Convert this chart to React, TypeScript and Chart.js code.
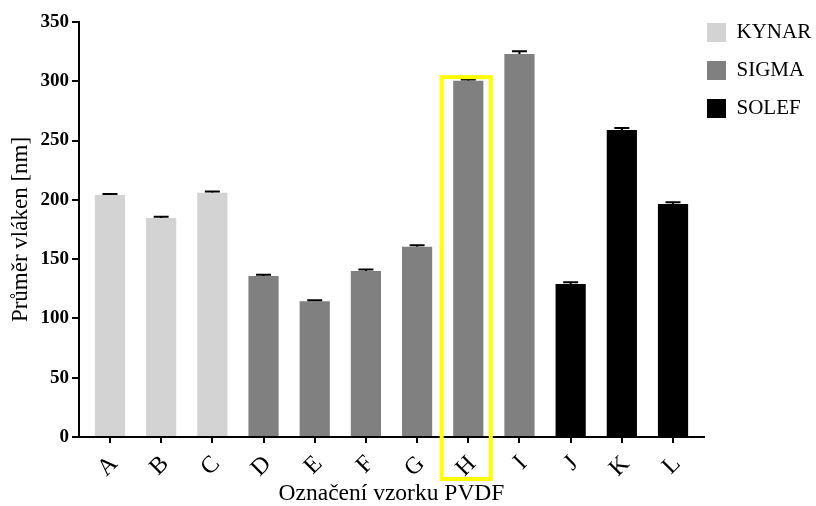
import { useEffect, useRef } from 'react';
import { Chart, registerables } from 'chart.js';

Chart.register(...registerables);

const categories = ['A', 'B', 'C', 'D', 'E', 'F', 'G', 'H', 'I', 'J', 'K', 'L'];
const groupNames = ['KYNAR', 'SIGMA', 'SOLEF'];
const groupColors = ['#d3d3d3', '#808080', '#000000'];
const groupOf = [0, 0, 0, 1, 1, 1, 1, 1, 1, 2, 2, 2];
const means = [204, 184.7, 206, 135.8, 114.4, 140, 160.5, 300.5, 323, 129, 259, 196.5];
const errors = [1, 1, 1, 1, 1, 1.2, 1.2, 1, 2.3, 1.5, 1.7, 1.5];
const yMax = 350;
const yStep = 50;
const highlightIndex = 7;
const highlightTop = 303.5;

const FONT = "'Liberation Serif', 'Times New Roman', serif";

const errorBarPlugin = {
  id: 'errorBars',
  afterDatasetsDraw(chart: any) {
    const { ctx, scales } = chart;
    const xs = scales.x;
    const ys = scales.y;
    ctx.save();
    ctx.strokeStyle = '#000';
    ctx.lineWidth = 2;
    means.forEach((m, i) => {
      const x = xs.getPixelForValue(i);
      const yT = ys.getPixelForValue(m + errors[i]);
      const yB = ys.getPixelForValue(m);
      ctx.beginPath();
      ctx.moveTo(x, yB);
      ctx.lineTo(x, yT);
      ctx.moveTo(x - 7.5, yT);
      ctx.lineTo(x + 7.5, yT);
      ctx.stroke();
    });
    ctx.restore();
  },
};

const highlightPlugin = {
  id: 'highlightBox',
  afterDraw(chart: any) {
    const { ctx, scales, chartArea } = chart;
    const xs = scales.x;
    const ys = scales.y;
    const left = xs.getPixelForValue(highlightIndex - 0.52);
    const right = xs.getPixelForValue(highlightIndex + 0.44);
    const top = ys.getPixelForValue(highlightTop);
    const bottom = chartArea.bottom + 42;
    ctx.save();
    ctx.strokeStyle = '#ffff00';
    ctx.lineWidth = 4;
    ctx.strokeRect(left, top, right - left, bottom - top);
    ctx.restore();
  },
};

const legendShiftPlugin = {
  id: 'legendShift',
  afterLayout(chart: any) {
    const lg = chart.legend;
    if (!lg) return;
    lg.left -= 14;
    lg.top -= 17;
  },
};

export default function App() {
  const ref = useRef<HTMLCanvasElement>(null);

  useEffect(() => {
    if (!ref.current) return;
    const datasets = groupNames.map((name, g) => ({
      label: name,
      data: categories
        .map((_, i) => i)
        .filter((i) => groupOf[i] === g)
        .map((i) => ({ x: i, y: means[i] })),
      backgroundColor: groupColors[g],
      borderWidth: 0,
      grouped: false,
      categoryPercentage: 1,
      barPercentage: 0.59,
    }));

    const chart = new Chart(ref.current, {
      type: 'bar',
      data: { datasets },
      options: {
        animation: false,
        responsive: true,
        maintainAspectRatio: false,
        layout: { padding: { left: 0, right: 0, top: 22, bottom: 0 } },
        plugins: {
          tooltip: { enabled: false },
          legend: {
            position: 'right',
            align: 'start',
            maxWidth: 112,
            labels: {
              boxWidth: 19,
              boxHeight: 19,
              padding: 17,
              color: '#000',
              font: { family: FONT, size: 21 },
            },
          },
        },
        scales: {
          x: {
            type: 'linear',
            min: -0.605,
            max: 11.605,
            offset: false,
            grid: { offset: false, drawOnChartArea: false, drawTicks: true, tickLength: 6, color: '#000', lineWidth: 2 },
            border: { display: true, color: '#000', width: 2 },
            ticks: {
              stepSize: 1,
              includeBounds: false,
              autoSkip: false,
              minRotation: 45,
              maxRotation: 45,
              padding: 7,
              labelOffset: 4,
              color: '#000',
              font: { family: FONT, size: 24 },
              callback: (v: any) => categories[v] ?? '',
            },
            title: {
              display: true,
              text: 'Označení vzorku PVDF',
              color: '#000',
              font: { family: FONT, size: 23.5 },
              padding: { top: 0, bottom: -2 },
            },
            afterFit: (s: any) => {
              s.height = 69;
            },
          },
          y: {
            min: 0,
            max: yMax,
            grid: { drawOnChartArea: false, drawTicks: true, tickLength: 7, color: '#000', lineWidth: 2 },
            border: { display: true, color: '#000', width: 2 },
            ticks: {
              stepSize: yStep,
              padding: 3,
              color: '#000',
              font: { family: FONT, size: 19, weight: 'bold' },
            },
            title: {
              display: true,
              text: 'Průměr vláken [nm]',
              color: '#000',
              font: { family: FONT, size: 23 },
              padding: { top: 7, bottom: 0 },
            },
            afterFit: (s: any) => {
              s.width = 79;
            },
          },
        },
      } as any,
      plugins: [errorBarPlugin, highlightPlugin, legendShiftPlugin],
    });
    return () => chart.destroy();
  }, []);

  return (
    <div style={{ position: 'absolute', left: 0, top: 0, width: 816, height: 506, background: '#fff' }}>
      <canvas ref={ref} />
    </div>
  );
}
